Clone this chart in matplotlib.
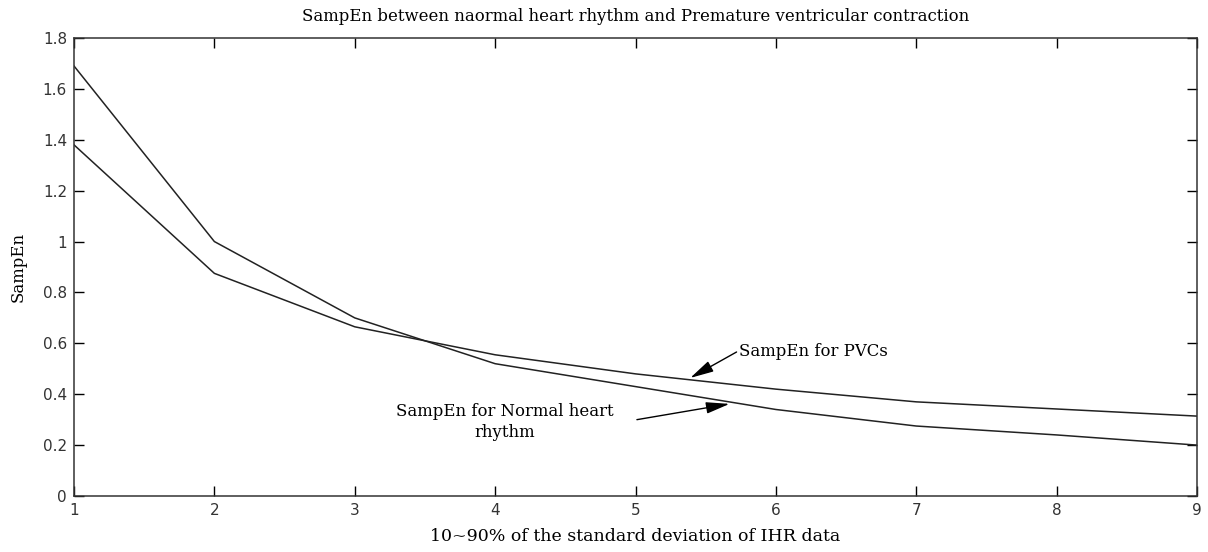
import matplotlib
matplotlib.use('Agg')
import matplotlib.pyplot as plt
from matplotlib.ticker import FormatStrFormatter

# Data
x = [1, 2, 3, 4, 5, 6, 7, 8, 9]
normal = [1.69, 1.00, 0.70, 0.52, 0.43, 0.34, 0.275, 0.24, 0.20]
pvc = [1.38, 0.875, 0.665, 0.555, 0.48, 0.42, 0.37, 0.342, 0.314]

fig = plt.figure(figsize=(12.08, 5.52), dpi=100)
ax = fig.add_axes([74 / 1208, 56 / 552, 1123 / 1208, 458 / 552])

ax.plot(x, normal, color='#222222', linewidth=1.1)
ax.plot(x, pvc, color='#222222', linewidth=1.1)

ax.set_xlim(1, 9)
ax.set_ylim(0, 1.8)
ax.set_xticks(range(1, 10))
ax.set_yticks([i * 0.2 for i in range(10)])
ax.yaxis.set_major_formatter(FormatStrFormatter('%g'))
ax.tick_params(direction='in', length=7, width=1, top=True, right=True,
               labelsize=11, pad=5)
for lab in ax.get_xticklabels() + ax.get_yticklabels():
    lab.set_fontfamily('DejaVu Sans')
    lab.set_color('#333333')
for s in ax.spines.values():
    s.set_linewidth(1.1)
    s.set_color('#333333')

serif = 'DejaVu Serif'
fs = 11.9
ax.set_title('SampEn between naormal heart rhythm and Premature ventricular contraction',
             fontfamily=serif, fontsize=fs, pad=12)
ax.set_xlabel('10~90% of the standard deviation of IHR data', fontfamily=serif, fontsize=fs + 0.6,
              labelpad=7)
ax.set_ylabel('SampEn', fontfamily=serif, fontsize=fs, labelpad=12)

# annotations with arrows
arrow = dict(arrowstyle='-|>,head_length=0.9,head_width=0.22', color='black', lw=1,
             mutation_scale=16, shrinkA=0, shrinkB=0)
ax.text(5.74, 0.566, 'SampEn for PVCs', fontfamily=serif, fontsize=fs, va='center', ha='left')
ax.annotate('', xy=(5.39, 0.464), xytext=(5.72, 0.566), arrowprops=arrow)
ax.text(4.07, 0.29, 'SampEn for Normal heart\nrhythm', fontfamily=serif, fontsize=fs,
        va='center', ha='center', linespacing=1.35)
ax.annotate('', xy=(5.67, 0.362), xytext=(5.01, 0.30), arrowprops=arrow)

fig.savefig('out.png', dpi=100)
